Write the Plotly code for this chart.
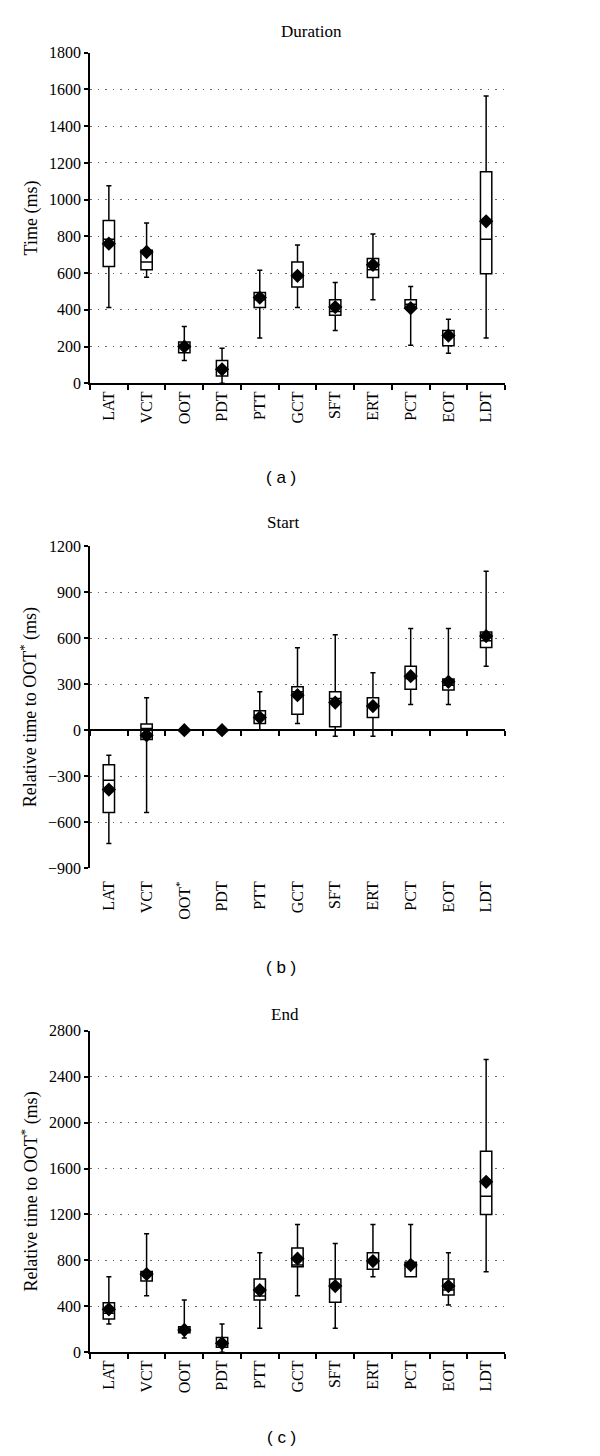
import plotly.graph_objects as go

# ---------------- data ----------------
cats = ["LAT", "VCT", "OOT", "PDT", "PTT", "GCT", "SFT", "ERT", "PCT", "EOT", "LDT"]
cats_b = ["LAT", "VCT", "OOT<sup>*</sup>", "PDT", "PTT", "GCT", "SFT", "ERT", "PCT", "EOT", "LDT"]

# (a) Duration
a_low = [413, 578, 124, 0, 247, 413, 287, 455, 207, 164, 247]
a_q1 = [636, 618, 167, 40, 413, 525, 371, 576, 415, 204, 596]
a_med = [784, 660, 200, 75, 455, 585, 391, 618, 430, 255, 784]
a_q3 = [887, 724, 225, 124, 495, 660, 455, 680, 455, 287, 1152]
a_high = [1075, 873, 309, 191, 615, 753, 549, 813, 527, 349, 1564]
a_mean = [760, 715, 200, 76, 467, 585, 415, 645, 409, 260, 882]

# (b) Start (None = no box drawn)
b_low = [-739, -537, None, None, 0, 43, -39, -39, 167, 167, 417]
b_q1 = [-537, -61, None, None, 43, 104, 22, 83, 267, 261, 539]
b_med = [-326, 11, None, None, 98, 250, 207, 163, 337, 293, 582]
b_q3 = [-226, 41, None, None, 126, 283, 250, 211, 417, 333, 639]
b_high = [-163, 211, None, None, 250, 537, 621, 374, 663, 663, 1035]
b_mean = [-387, -33, 0, 0, 83, 228, 180, 157, 352, 315, 613]

# (c) End
c_low = [246, 493, 125, 0, 209, 493, 209, 658, 658, 412, 702]
c_q1 = [290, 620, 171, 43, 455, 745, 435, 722, 658, 499, 1200]
c_med = [339, 673, 194, 78, 490, 760, 577, 794, 760, 542, 1359]
c_q3 = [432, 704, 223, 128, 638, 907, 638, 867, 783, 638, 1750]
c_high = [658, 1032, 455, 246, 867, 1113, 948, 1113, 1113, 867, 2550]
c_mean = [374, 681, 194, 78, 542, 815, 577, 794, 760, 577, 1484]

# ---------------- layout helpers ----------------
OFF = 8  # page body margin
W, H = 592, 1440
ML, MR = 90 - OFF, W - (505 - OFF)
SERIF = "Liberation Serif, Times New Roman, serif"
SANS = "Liberation Sans, Arial, sans-serif"


def ydom(top_px, bot_px):
    return [1 - (bot_px - OFF) / H, 1 - (top_px - OFF) / H]


def xp(px):
    return (px - OFF - ML) / (W - ML - MR)


def yp(px):
    return 1 - (px - OFF) / H


fig = go.Figure()


def add_panel(idx, categories, low, q1, med, q3, high, mean):
    xa = "x" if idx == 1 else f"x{idx}"
    ya = "y" if idx == 1 else f"y{idx}"
    keep = [i for i in range(len(categories)) if q1[i] is not None]
    fig.add_trace(go.Box(
        x=[categories[i] for i in keep],
        lowerfence=[low[i] for i in keep],
        q1=[q1[i] for i in keep],
        median=[med[i] for i in keep],
        q3=[q3[i] for i in keep],
        upperfence=[high[i] for i in keep],
        fillcolor="white",
        line=dict(color="black", width=1.5),
        whiskerwidth=0.45,
        width=0.3,
        boxpoints=False,
        xaxis=xa, yaxis=ya,
        showlegend=False,
        hoverinfo="skip",
    ))
    fig.add_trace(go.Scatter(
        x=categories, y=mean, mode="markers",
        marker=dict(symbol="diamond", size=11, color="black"),
        xaxis=xa, yaxis=ya, showlegend=False, hoverinfo="skip",
    ))


add_panel(1, cats, a_low, a_q1, a_med, a_q3, a_high, a_mean)
add_panel(2, cats_b, b_low, b_q1, b_med, b_q3, b_high, b_mean)
add_panel(3, cats, c_low, c_q1, c_med, c_q3, c_high, c_mean)

dom_a = ydom(52.7, 383.3)
dom_b = ydom(546.0, 868.3)
dom_c = ydom(1030.7, 1352.3)

range_b = [-900, 1200]
zero_b = dom_b[0] + (0 - range_b[0]) / (range_b[1] - range_b[0]) * (dom_b[1] - dom_b[0])

xcommon = dict(
    type="category", showline=True, linecolor="black", linewidth=1.5,
    ticks="outside", ticklen=5, tickwidth=1.5, tickcolor="black",
    tickson="boundaries", showgrid=False, zeroline=False,
    tickangle=-90, tickfont=dict(family=SERIF, size=16, color="black"),
    range=[-0.5, 10.5], domain=[0, 1], fixedrange=True,
)
ycommon = dict(
    showline=True, linecolor="black", linewidth=1.5,
    ticks="outside", ticklen=4, tickwidth=1.5, tickcolor="black",
    showgrid=True, gridcolor="#666666", gridwidth=1.2, griddash="1.5px,6px",
    zeroline=False, tickfont=dict(family=SERIF, size=16, color="black"),
    title_font=dict(family=SERIF, size=18, color="black"),
    title_standoff=7, fixedrange=True,
)

fig.update_layout(
    width=W, height=H,
    margin=dict(l=ML, r=MR, t=0, b=0, autoexpand=False),
    paper_bgcolor="white", plot_bgcolor="white",
    xaxis=dict(xcommon, anchor="y", categoryorder="array", categoryarray=cats),
    yaxis=dict(ycommon, anchor="x", domain=dom_a, range=[0, 1800], dtick=200,
               title_text="Time (ms)"),
    xaxis2=dict(xcommon, anchor="free", position=zero_b, categoryorder="array",
                categoryarray=cats_b, ticklabelstandoff=144),
    yaxis2=dict(ycommon, anchor="x2", domain=dom_b, range=range_b, dtick=300,
                title_text="Relative time to OOT<sup>*</sup> (ms)"),
    xaxis3=dict(xcommon, anchor="y3", categoryorder="array", categoryarray=cats),
    yaxis3=dict(ycommon, anchor="x3", domain=dom_c, range=[0, 2800], dtick=400,
                title_text="Relative time to OOT<sup>*</sup> (ms)"),
)

titles = [("Duration", 311.7, 31), ("Start", 283, 522), ("End", 285, 1014)]
for text, xpx, ypx in titles:
    fig.add_annotation(text=text, x=xp(xpx), y=yp(ypx), xref="paper", yref="paper",
                       xanchor="center", yanchor="middle",
                       showarrow=False, font=dict(family=SERIF, size=17, color="black"))

labels = [("( a )", 281, 477), ("( b )", 281, 967)]
for text, xpx, ypx in labels:
    fig.add_annotation(text=text, x=xp(xpx), y=yp(ypx), xref="paper", yref="paper",
                       xanchor="center", yanchor="middle",
                       showarrow=False, font=dict(family=SANS, size=17, color="black"))
# last label sits against the bottom edge of the page
fig.add_annotation(text="( c )", x=xp(281), y=0, xref="paper", yref="paper",
                   xanchor="center", yanchor="bottom", borderpad=0,
                   showarrow=False, font=dict(family=SANS, size=17, color="black"))

fig.write_html("out.html")
